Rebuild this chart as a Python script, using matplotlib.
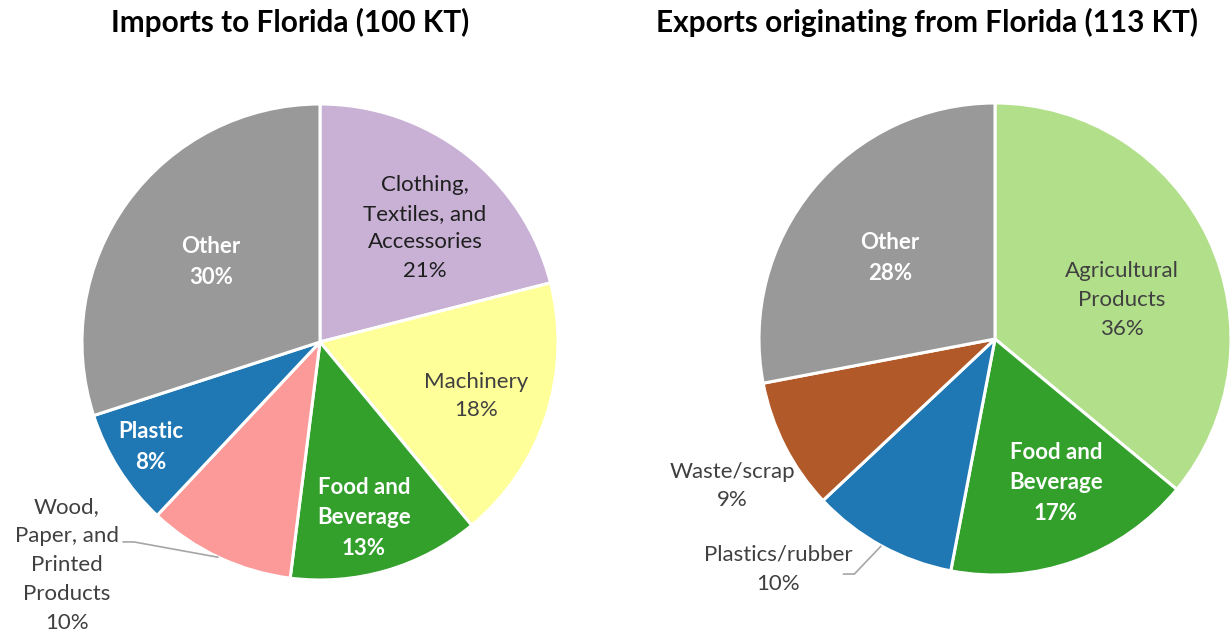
import numpy as np
import matplotlib
matplotlib.use("Agg")
import matplotlib.pyplot as plt

plt.rcParams['font.family'] = ['Lato', 'DejaVu Sans']

# Imports to Florida
imp_labels = ["Clothing,\nTextiles, and\nAccessories", "Machinery", "Food and\nBeverage",
              "Wood,\nPaper, and\nPrinted\nProducts", "Plastic", "Other"]
imp_values = [21, 18, 13, 10, 8, 30]
imp_colors = ["#C9B1D6", "#FFFF99", "#33A02C", "#FB9A99", "#1F78B4", "#999999"]

# Exports originating from Florida
exp_labels = ["Agricultural\nProducts", "Food and\nBeverage", "Plastics/rubber", "Waste/scrap", "Other"]
exp_values = [36, 17, 10, 9, 28]
exp_colors = ["#B2DF8A", "#33A02C", "#1F78B4", "#B15928", "#999999"]

W, H = 1232, 635
fig = plt.figure(figsize=(W / 100, H / 100), dpi=100)


def pie_axes(cx, cy, r):
    return fig.add_axes([(cx - r) / W, (H - cy - r) / H, 2 * r / W, 2 * r / H])


DARK = "#1f1f1f"
GRAY = "#404040"
FS = 16
LS = 1.55


def draw(ax, values, colors, labels, styles, title, title_x):
    wedges, _ = ax.pie(values, colors=colors, startangle=90, counterclock=False,
                       wedgeprops=dict(edgecolor="white", linewidth=2.2))
    ax.set_xlim(-1, 1)
    ax.set_ylim(-1, 1)
    ax.set_aspect("equal")
    ax.axis("off")
    total = sum(values)
    for w, v, lab, st in zip(wedges, values, labels, styles):
        x, y, kind = st[0], st[1], st[2]
        txt = f"{lab}\n{round(100 * v / total)}%"
        if kind == "in_bold":
            ax.text(x, y, txt, ha="center", va="center", color="white",
                    fontsize=FS, fontweight="bold", linespacing=LS, clip_on=False)
        else:
            color = DARK if kind == "in_dark" else GRAY
            ax.text(x, y, txt, ha="center", va="center", color=color,
                    fontsize=FS, linespacing=LS, clip_on=False)
        if len(st) > 3:
            # leader line from the label to the rim of the wedge
            (sx, sy), (ex, ey) = st[3]
            mid = np.deg2rad((w.theta1 + w.theta2) / 2)
            ax.plot([sx, ex, np.cos(mid)], [sy, ey, np.sin(mid)], color="#A6A6A6",
                    lw=1.2, clip_on=False, solid_capstyle="butt")
    fig.text(title_x / W, 1 - 22 / H, title, ha="center", va="center",
             fontsize=21.4, fontweight="bold", color="black")


ax1 = pie_axes(320, 342, 238)
imp_styles = [
    (0.441, 0.479, "in_dark"),
    (0.655, -0.227, "out"),
    (0.185, -0.739, "in_bold"),
    (-1.063, -0.937, "out", ((-0.830, -0.840), (-0.782, -0.840))),
    (-0.710, -0.441, "in_bold"),
    (-0.458, 0.336, "in_bold"),
]
draw(ax1, imp_values, imp_colors, imp_labels, imp_styles,
     "Imports to Florida (100 KT)", 290)

ax2 = pie_axes(995, 339, 236)
exp_styles = [
    (0.538, 0.165, "out"),
    (0.258, -0.610, "in_bold"),
    (-0.919, -0.975, "out", ((-0.645, -0.996), (-0.596, -0.996))),
    (-1.114, -0.623, "out"),
    (-0.445, 0.343, "in_bold"),
]
draw(ax2, exp_values, exp_colors, exp_labels, exp_styles,
     "Exports originating from Florida (113 KT)", 927)

fig.savefig("out.png", dpi=100, facecolor="white")
